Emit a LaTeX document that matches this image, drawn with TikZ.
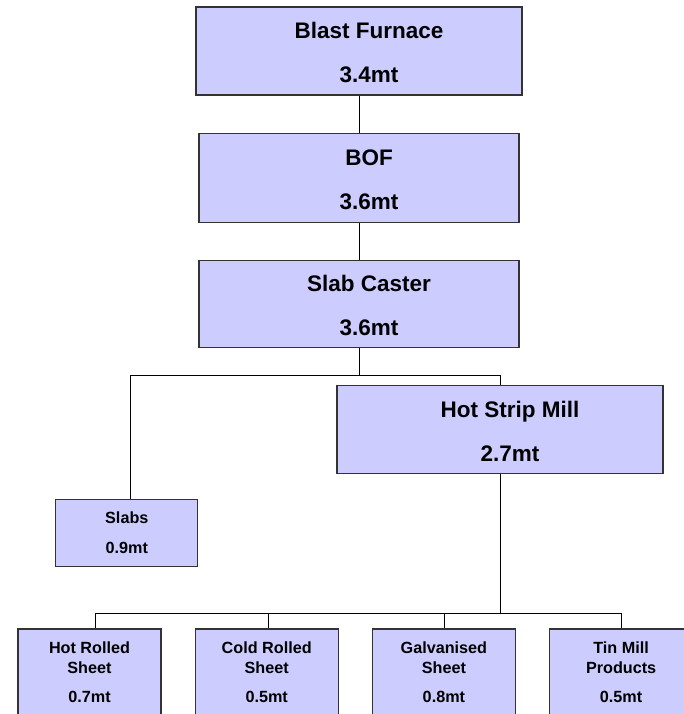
\documentclass[tikz,border=0pt]{standalone}
\usepackage{fontspec}
\setmainfont{Liberation Sans}
\usepackage{xcolor}
\usepackage{tikz}
\usetikzlibrary{positioning}
\definecolor{boxfill}{HTML}{CCCCFF}
\newcommand{\plantlabel}[2]{\hspace*{20pt}\begin{tabular}{@{}c@{}}\rule{0pt}{27pt}#1\\[17pt]#2\end{tabular}}

\begin{document}
\begin{tikzpicture}[
  x=1pt, y=-1pt,
  bigbox/.style={draw=black!80, line width=1.2pt, fill=boxfill,
              minimum width=326pt, minimum height=88pt, inner sep=0pt,
              font=\fontsize{22.5}{27}\selectfont\bfseries},
  smallbox/.style={draw=black!80, line width=1.2pt, fill=boxfill,
              minimum width=143pt, minimum height=86pt, inner sep=0pt,
              align=center, font=\fontsize{16.2}{20}\selectfont\bfseries},
  link/.style={line width=1pt},
  node distance=37pt and 33pt
]
  \useasboundingbox (0,0) rectangle (683,714);

  \node[bigbox] (bf) at (359,51) {\plantlabel{Blast Furnace}{3.4mt}};
  \node[bigbox, minimum width=320pt, minimum height=89pt, below=of bf]  (bof) {\plantlabel{BOF}{3.6mt}};
  \node[bigbox, minimum width=320pt, minimum height=87pt, below=of bof] (sc)  {\plantlabel{Slab Caster}{3.6mt}};
  \node[bigbox, below=of sc, xshift=141pt] (hsm) {\plantlabel{Hot Strip Mill}{2.7mt}};
  \node[smallbox, minimum width=142pt, minimum height=67pt, below left=151pt and 0pt of sc] (slabs) {Slabs\\[10pt]0.9mt};

  \node[smallbox] (hr) at (89.5,672) {Hot Rolled\\Sheet\\[9pt]0.7mt};
  \node[smallbox, right=of hr] (cr) {Cold Rolled\\Sheet\\[9pt]0.5mt};
  \node[smallbox, right=of cr] (gs) {Galvanised\\Sheet\\[9pt]0.8mt};
  \node[smallbox, right=of gs] (tm) {Tin Mill\\Products\\[9pt]0.5mt};

  \draw[link] (bf) -- (bof);
  \draw[link] (bof) -- (sc);
  \draw[link] (sc.south) -- ++(0,27) coordinate (split1) -| ([xshift=4pt]slabs.north);
  \draw[link] (split1) -| (hsm.north);
  \draw[link] (hsm.south) -- ++(0,139) coordinate (split2);
  \foreach \n/\dx in {hr/6pt,cr/2pt,gs/1pt,tm/0pt}
    \draw[link] (split2) -| ([xshift=\dx]\n.north);
\end{tikzpicture}
\end{document}
